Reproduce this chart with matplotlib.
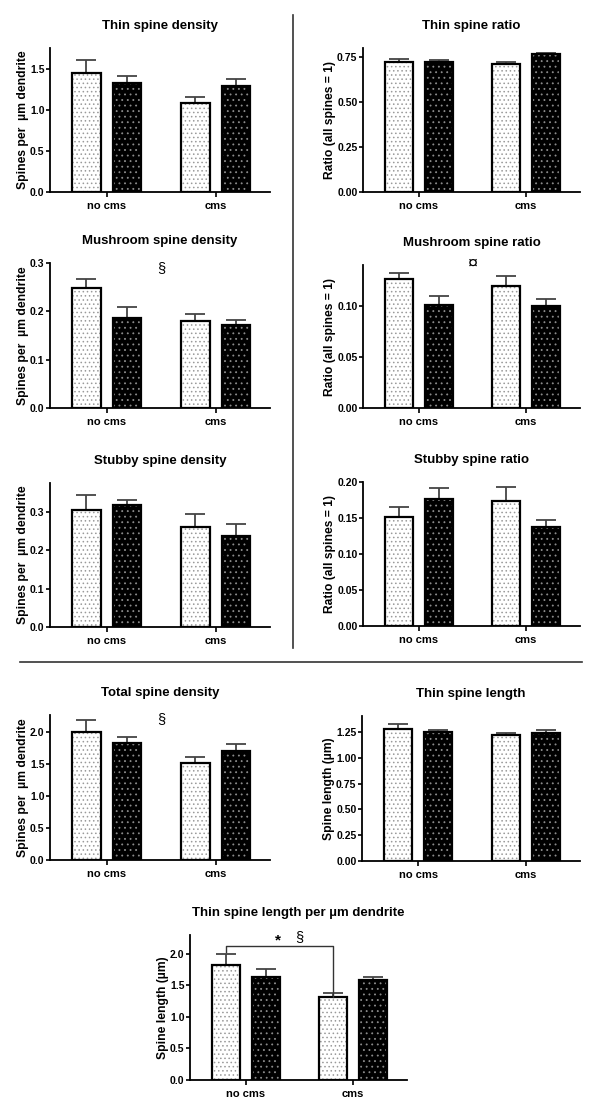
import numpy as np
import matplotlib
matplotlib.use("Agg")
import matplotlib.pyplot as plt
from matplotlib.lines import Line2D

plt.rcParams['font.family'] = ['Liberation Sans', 'DejaVu Sans']
plt.rcParams['font.weight'] = 'bold'
plt.rcParams['hatch.linewidth'] = 0.6

# data: order is [no cms light, no cms dark, cms light, cms dark]
groups = ['no cms', 'cms']

thin_density = [1.45, 1.32, 1.08, 1.29]
thin_density_sem = [0.15, 0.09, 0.08, 0.08]

thin_ratio = [0.725, 0.725, 0.71, 0.765]
thin_ratio_sem = [0.013, 0.010, 0.010, 0.010]

mush_density = [0.248, 0.186, 0.179, 0.171]
mush_density_sem = [0.018, 0.023, 0.016, 0.012]

mush_ratio = [0.126, 0.101, 0.119, 0.100]
mush_ratio_sem = [0.006, 0.009, 0.010, 0.007]

stubby_density = [0.304, 0.317, 0.261, 0.236]
stubby_density_sem = [0.041, 0.015, 0.033, 0.032]

stubby_ratio = [0.152, 0.177, 0.173, 0.137]
stubby_ratio_sem = [0.013, 0.015, 0.020, 0.010]

total_density = [2.00, 1.83, 1.52, 1.70]
total_density_sem = [0.19, 0.09, 0.09, 0.11]

thin_length = [1.275, 1.25, 1.22, 1.24]
thin_length_sem = [0.055, 0.02, 0.025, 0.03]

thin_length_um = [1.83, 1.64, 1.31, 1.59]
thin_length_um_sem = [0.17, 0.12, 0.07, 0.05]

W, H = 600, 1110
fig = plt.figure(figsize=(W / 100, H / 100), dpi=100)


def make_ax(x0, x1, y0, y1):
    # pixel box (top-left origin) -> figure fraction
    return fig.add_axes([x0 / W, (H - y1) / H, (x1 - x0) / W, (y1 - y0) / H])


def bar_panel(ax, vals, sems, title, ylabel, ylim, yticks, fmt):
    pos = np.array([0, 1])
    off = 0.185
    bw = 0.26
    xs = [pos[0] - off, pos[0] + off, pos[1] - off, pos[1] + off]
    for i, (x, v, e) in enumerate(zip(xs, vals, sems)):
        light = (i % 2 == 0)
        ax.errorbar(x, v, yerr=[[0], [e]], fmt='none', ecolor='#444444',
                    elinewidth=1.3, capsize=7, capthick=1.3, zorder=1)
        if light:
            ax.bar(x, v, bw, color='white', edgecolor='#9a9a9a', hatch='....',
                   linewidth=0, zorder=2)
        else:
            ax.bar(x, v, bw, color='black', edgecolor='#8c8c8c', hatch='...',
                   linewidth=0, zorder=2)
        ax.bar(x, v, bw, facecolor='none', edgecolor='black', linewidth=1.6, zorder=3)
    ax.set_xlim(-0.52, 1.5)
    ax.set_ylim(*ylim)
    ax.set_yticks(yticks)
    ax.set_yticklabels([fmt % t for t in yticks])
    ax.set_xticks(pos)
    ax.set_xticklabels(groups, fontsize=8, fontweight='bold')
    ax.tick_params(axis='y', labelsize=7.5, direction='out', length=3, width=1.2, pad=1)
    ax.tick_params(axis='x', direction='out', length=3.5, width=1.2, pad=3)
    for s in ['top', 'right']:
        ax.spines[s].set_visible(False)
    for s in ['left', 'bottom']:
        ax.spines[s].set_linewidth(1.3)
    ax.set_ylabel(ylabel, fontsize=8.7, fontweight='bold', labelpad=1)
    ax.annotate(title, xy=(0.5, 1), xycoords='axes fraction', xytext=(0, 16),
                textcoords='offset points', ha='center', va='center',
                fontsize=9.5, fontweight='bold')


ax1 = make_ax(50, 270, 48, 192)
bar_panel(ax1, thin_density, thin_density_sem, 'Thin spine density',
          'Spines per  \u00b5m dendrite', (0, 1.75), [0, 0.5, 1.0, 1.5], '%.1f')

ax2 = make_ax(363, 580, 48, 192)
bar_panel(ax2, thin_ratio, thin_ratio_sem, 'Thin spine ratio',
          'Ratio (all spines = 1)', (0, 0.8), [0, 0.25, 0.5, 0.75], '%.2f')

ax3 = make_ax(50, 270, 263, 408)
bar_panel(ax3, mush_density, mush_density_sem, 'Mushroom spine density',
          'Spines per  \u00b5m dendrite', (0, 0.3), [0, 0.1, 0.2, 0.3], '%.1f')
ax3.text(0.5, 0.29, '\u00a7', ha='center', va='center', fontsize=10.5, fontweight='normal')

ax4 = make_ax(363, 580, 265, 408)
bar_panel(ax4, mush_ratio, mush_ratio_sem, 'Mushroom spine ratio',
          'Ratio (all spines = 1)', (0, 0.14), [0, 0.05, 0.10], '%.2f')
ax4.text(0.5, 0.141, '\u00a4', ha='center', va='center', fontsize=13,
         fontweight='normal', clip_on=False)

ax5 = make_ax(50, 270, 483, 627)
bar_panel(ax5, stubby_density, stubby_density_sem, 'Stubby spine density',
          'Spines per  \u00b5m dendrite', (0, 0.375), [0, 0.1, 0.2, 0.3], '%.1f')

ax6 = make_ax(363, 580, 482, 626)
bar_panel(ax6, stubby_ratio, stubby_ratio_sem, 'Stubby spine ratio',
          'Ratio (all spines = 1)', (0, 0.2), [0, 0.05, 0.10, 0.15, 0.20], '%.2f')

ax7 = make_ax(50, 270, 715, 860)
bar_panel(ax7, total_density, total_density_sem, 'Total spine density',
          'Spines per  \u00b5m dendrite', (0, 2.27), [0, 0.5, 1.0, 1.5, 2.0], '%.1f')
ax7.text(0.5, 2.2, '\u00a7', ha='center', va='center', fontsize=10.5, fontweight='normal')

ax8 = make_ax(362, 580, 716, 861)
bar_panel(ax8, thin_length, thin_length_sem, 'Thin spine length',
          'Spine length (\u00b5m)', (0, 1.405), [0, 0.25, 0.5, 0.75, 1.0, 1.25], '%.2f')

ax9 = make_ax(190, 407, 935, 1080)
bar_panel(ax9, thin_length_um, thin_length_um_sem, 'Thin spine length per \u00b5m dendrite',
          'Spine length (\u00b5m)', (0, 2.3), [0, 0.5, 1.0, 1.5, 2.0], '%.1f')
ax9.plot([-0.185, -0.185, 0.815, 0.815], [2.03, 2.12, 2.12, 1.32],
         color='#333333', linewidth=1.0, zorder=4)
ax9.text(0.3, 2.1, '*', ha='center', va='bottom', fontsize=11, fontweight='bold')
ax9.text(0.5, 2.27, '\u00a7', ha='center', va='center', fontsize=10.5,
         fontweight='normal', clip_on=False)

# separators between the blocks of panels
fig.add_artist(Line2D([293 / W, 293 / W], [1 - 15 / H, 1 - 648 / H],
                      color='#333333', linewidth=1.2))
fig.add_artist(Line2D([20 / W, 582 / W], [1 - 662 / H, 1 - 662 / H],
                      color='#333333', linewidth=1.2))

fig.savefig('out.png', dpi=100)
